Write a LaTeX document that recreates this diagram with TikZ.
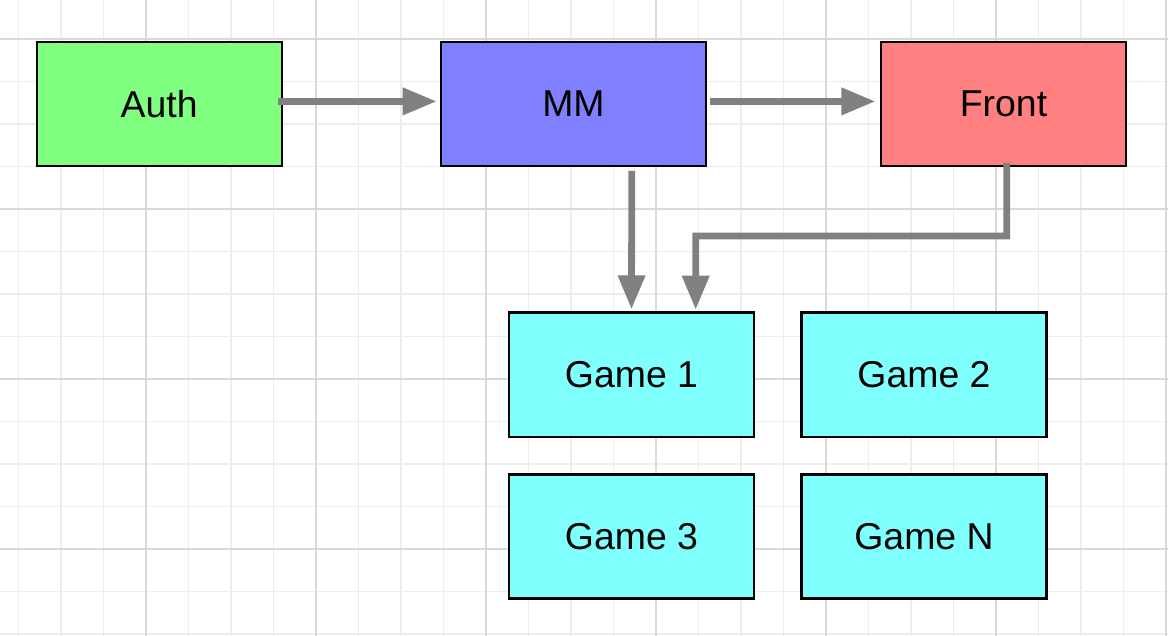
\documentclass[tikz,border=0pt]{standalone}
\usepackage{fontspec}
\setmainfont{Liberation Sans}
\usetikzlibrary{arrows.meta}
\definecolor{authgreen}{HTML}{80FF80}
\definecolor{mmblue}{HTML}{8080FF}
\definecolor{frontred}{HTML}{FF8080}
\definecolor{gamecyan}{HTML}{80FFFF}
\definecolor{arrgray}{HTML}{808080}
\definecolor{gridminor}{HTML}{EDEDED}
\definecolor{gridmajor}{HTML}{D9D9D9}
\tikzset{
  box/.style={draw=black, line width=1.2pt, rectangle, minimum width=122.5pt, minimum height=62pt,
    inner sep=0pt, outer sep=0pt, font=\fontsize{18.7}{22}\selectfont},
  arr/.style={draw=arrgray, line width=3.4pt, -{Triangle[length=17pt,width=13pt]}},
  gridline/.style={draw=gridminor, line width=0.6pt},
  gridmaj/.style={draw=gridmajor, line width=0.6pt}
}
\begin{document}
\begin{tikzpicture}[x=0.5pt,y=-0.5pt]
\useasboundingbox (0,0) rectangle (1168,636);
\fill[white] (0,0) rectangle (1168,636);
% grid
\foreach \k in {0,...,27} {
  \draw[gridline] ({18.5+42.5*\k},0) -- ({18.5+42.5*\k},636);
}
\foreach \k in {1,...,15} {
  \draw[gridline] (0,{-3.5+42.5*\k}) -- (1168,{-3.5+42.5*\k});
}
\foreach \k in {0,...,6} {
  \draw[gridmaj] ({146+170*\k},0) -- ({146+170*\k},636);
}
\foreach \k in {0,...,3} {
  \draw[gridmaj] (0,{39+170*\k}) -- (1168,{39+170*\k});
}
% nodes
\node[box, fill=authgreen] (auth) at (159.2,103.8) {Auth};
\node[box, fill=mmblue, minimum width=132.7pt] (mm) at (573.4,104) {MM};
\node[box, fill=frontred] (front) at (1003.5,104) {Front};
\node[box, fill=gamecyan] (game1) at (631.5,374.7) {Game 1};
\node[box, fill=gamecyan] (game2) at (924,374.7) {Game 2};
\node[box, fill=gamecyan] (game3) at (631.5,536.5) {Game 3};
\node[box, fill=gamecyan] (gameN) at (924,536.5) {Game N};
% connectors
\coordinate (bend) at (695.7,236);
\draw[arr] ([xshift=-1.8pt,yshift=1.2pt]auth.east) -- ([xshift=-2pt,yshift=1.3pt]mm.west);
\draw[arr] ([xshift=2pt,yshift=1.3pt]mm.east) -- ([xshift=-2.8pt,yshift=1.3pt]front.west);
\draw[arr] ([xshift=29.2pt,yshift=-2.4pt]mm.south) -- ([yshift=1.7pt]game1.north);
\draw[arr] ([xshift=1.6pt,yshift=1.6pt]front.south) |- (bend) -- ([xshift=32.1pt,yshift=1.5pt]game1.north);
\end{tikzpicture}
\end{document}
